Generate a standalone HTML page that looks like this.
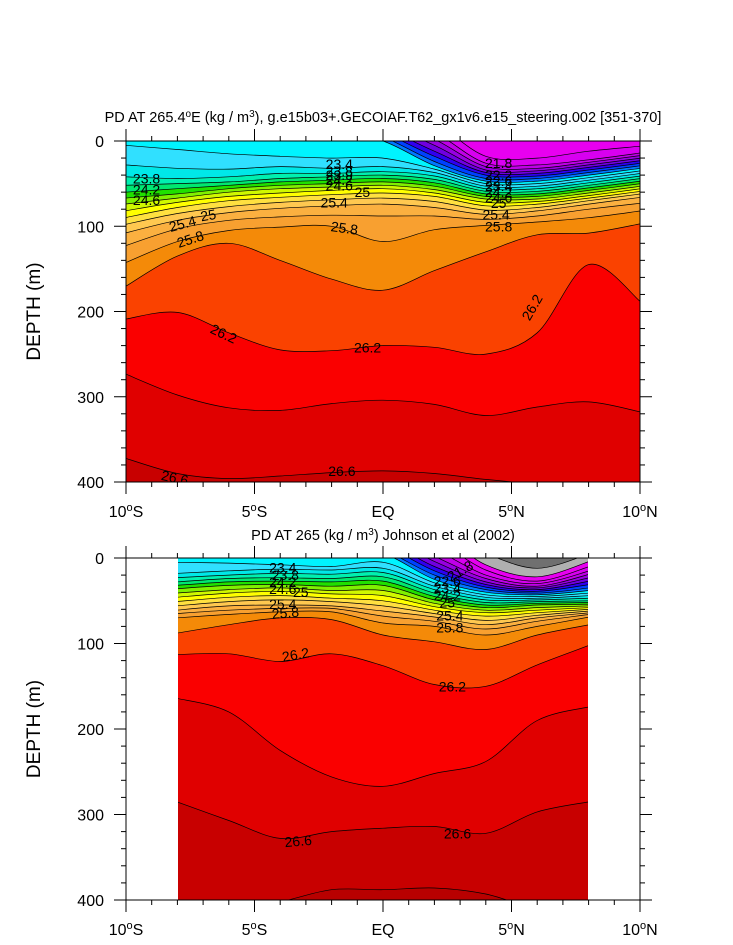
<!DOCTYPE html>
<html><head><meta charset="utf-8"><style>
html,body{margin:0;padding:0;background:#fff;}
svg{display:block;font-family:"Liberation Sans",sans-serif;}
</style></head><body>
<svg id="chart" width="733" height="945" viewBox="0 0 733 945" xmlns="http://www.w3.org/2000/svg">
<defs>
<clipPath id="clipTop"><rect x="126" y="141" width="514" height="341"/></clipPath>
<clipPath id="clipBot"><rect x="178" y="558" width="410" height="342"/></clipPath>
</defs>
<text x="383" y="122" text-anchor="middle" font-size="14.5">PD AT 265.4<tspan baseline-shift="super" font-size="10">o</tspan>E (kg / m<tspan baseline-shift="super" font-size="10">3</tspan>), g.e15b03+.GECOIAF.T62_gx1v6.e15_steering.002 [351-370]</text>
<text x="383" y="540" text-anchor="middle" font-size="14.5">PD AT 265 (kg / m<tspan baseline-shift="super" font-size="10">3</tspan>) Johnson et al (2002)</text>
<g id="topPanel"></g>
<g id="botPanel"></g>
</svg>
<script>
const levels = [21.4,21.6,21.8,22.0,22.2,22.4,22.6,22.8,23.0,23.2,23.4,23.6,23.8,24.0,24.2,24.4,24.6,24.8,25.0,25.2,25.4,25.6,25.8,26.0,26.2,26.4,26.6,26.8];
const bandColors = ['#b0b0b0','#e800f0','#d800f0','#c000e8','#9800e0','#7000e0','#3000f0','#0040ff','#0078ff','#00f4ff','#30e0ff','#00e8e8','#00f0b0','#00e870','#20e000','#80f000','#d0f800','#ffff00','#ffe040','#ffc850','#fbb040','#f8a030','#f48a08','#fa4200','#fa0000','#e00000','#c80000','#b80000'];
const topColor = '#707070';

const topLats = [-10,-8,-6,-4,-2,0,2,4,6,8,10];
const topDepth = [
 [-30,-30,-30,-30,-30,-30,-30,-30,-30,-30,-30],
 [-30,-30,-30,-30,-30,-30,-30,-30,-30,-30,-30],
 [-30,-30,-30,-30,-30,-30,-20,18,20,12,6],
 [-30,-30,-30,-30,-30,-30,-10,26,28,22,14],
 [-30,-30,-30,-30,-30,-25,-2,30,32,25,17],
 [-30,-30,-30,-30,-30,-20,5,34,35,28,20],
 [-30,-30,-30,-30,-30,-15,12,37,38,31,23],
 [-30,-30,-30,-30,-30,-10,18,40,41,34,26],
 [-30,-30,-30,-30,-25,-5,24,44,44,37,29],
 [-30,-30,-30,-20,-12,0,29,47,47,40,32],
 [5,10,15,18,20,20,33,50,50,43,35],
 [28,32,33,30,32,30,37,53,53,46,38],
 [42,44,42,38,38,36,41,56,56,49,41],
 [52,50,48,44,42,40,45,59,59,52,44],
 [60,56,52,48,46,44,49,62,62,55,47],
 [67,62,56,52,50,48,53,65,65,58,50],
 [74,67,60,56,54,52,57,68,68,61,53],
 [82,72,65,61,58,56,61,72,71,64,56],
 [90,78,70,66,63,61,65,76,74,67,59],
 [98,85,77,72,69,67,71,81,78,70,62],
 [108,93,84,79,76,74,78,86,82,74,66],
 [123,103,93,89,87,88,88,92,88,80,73],
 [143,118,105,101,100,118,104,99,95,90,82],
 [171,135,120,140,162,175,152,130,110,108,97],
 [209,201,225,245,246,240,242,250,225,145,189],
 [273,298,313,316,308,304,309,322,312,306,318],
 [372,390,396,393,389,387,390,397,402,405,408],
 [450,450,450,450,450,450,450,450,450,450,450]
];

const botLats = [-8,-6,-4,-2,0,2,4,6,8];
const botDepth = [
 [-30,-30,-30,-30,-30,-30,-5,12,-5],
 [-30,-30,-30,-30,-30,-30,8,22,4],
 [-30,-30,-30,-30,-30,-20,14,27,10],
 [-30,-30,-30,-30,-30,-10,20,30,15],
 [-30,-30,-30,-30,-30,-2,24,33,19],
 [-30,-30,-30,-30,-25,4,28,35,23],
 [-30,-30,-30,-30,-20,10,31,37,27],
 [-30,-30,-30,-30,-15,15,34,39,31],
 [-30,-30,-30,-30,-10,20,37,41,35],
 [-30,-30,-20,-10,-5,25,40,43,38],
 [5,6,8,10,5,29,43,45,41],
 [18,15,13,14,12,33,46,47,44],
 [23,20,18,19,17,37,49,49,47],
 [28,24,23,24,22,41,52,51,50],
 [32,28,27,28,27,45,55,53,52],
 [36,32,31,33,32,49,58,55,54],
 [41,37,35,38,38,53,61,58,56],
 [46,41,39,42,44,57,64,61,58],
 [51,46,44,47,50,61,68,64,60],
 [56,51,49,51,56,65,73,67,62],
 [61,56,55,56,62,69,78,70,64],
 [65,61,59,59,68,74,83,74,66],
 [70,66,63,63,76,80,90,80,69],
 [88,78,70,72,90,98,107,90,78],
 [113,112,121,112,126,148,150,125,102],
 [164,180,225,256,267,252,238,190,174],
 [285,307,328,320,316,314,322,297,285],
 [410,410,402,388,388,386,393,410,410]
];

const xTickLats = [-10,-5,0,5,10];
const xTickLabels = ['10°S','5°S','EQ','5°N','10°N'];
const yTickDepths = [0,100,200,300,400];

const topLabels = [
 ['23.4',-1.7,27,0],['23.8',-1.7,35,0],['23.9',-1.7,40,0],['24.2',-1.7,46,0],['24.6',-1.7,52,0],['25',-0.8,60,0],['25.4',-1.9,72,0],['25.8',-1.5,102,8],
 ['23.8',-9.2,44,0],['24.2',-9.2,57,0],['24.6',-9.2,69,0],['25',-6.8,87,-10],['25.4',-7.8,97,-15],['25.8',-7.5,115,-18],
 ['21.8',4.5,26,0],['22.2',4.5,40,0],['22.6',4.5,47,0],['23.4',4.5,53,0],['24.2',4.5,60,0],['24.6',4.5,66,0],['25',4.5,73,0],['25.4',4.4,86,0],['25.8',4.5,100,0],
 ['26.2',-6.2,226,25],['26.2',-0.6,242,0],['26.2',5.8,195,-60],['26.6',-8.1,395,12],['26.6',-1.6,387,0]
];
const botLabels = [
 ['23.4',-3.9,11,0],['23.8',-3.8,20,0],['24.2',-3.9,28,0],['24.6',-3.9,36,0],['25',-3.2,40,0],['25.4',-3.9,54,0],['25.8',-3.8,64,-5],
 ['21.8',3.0,15,-30],['22.6',2.5,27,0],['23.4',2.5,35,0],['24.2',2.5,44,0],['25',2.5,52,0],['25.4',2.6,67,0],['25.8',2.6,81,0],
 ['26.2',-3.4,113,-10],['26.2',2.7,150,0],['26.6',-3.3,331,-5],['26.6',2.9,322,0]
];

const NS='http://www.w3.org/2000/svg';
function xOf(lat){ return 126 + (lat+10)*25.7; }
function mk(tag, attrs, parent){ const e=document.createElementNS(NS,tag); for(const k in attrs) e.setAttribute(k,attrs[k]); parent.appendChild(e); return e; }
function smooth(pts){
  let d='M'+pts[0][0].toFixed(1)+','+pts[0][1].toFixed(1);
  for(let i=0;i<pts.length-1;i++){
    const p0=pts[i-1]||pts[i], p1=pts[i], p2=pts[i+1], p3=pts[i+2]||pts[i+1];
    const c1x=p1[0]+(p2[0]-p0[0])/6, c1y=p1[1]+(p2[1]-p0[1])/6;
    const c2x=p2[0]-(p3[0]-p1[0])/6, c2y=p2[1]-(p3[1]-p1[1])/6;
    d+=' C'+c1x.toFixed(1)+','+c1y.toFixed(1)+' '+c2x.toFixed(1)+','+c2y.toFixed(1)+' '+p2[0].toFixed(1)+','+p2[1].toFixed(1);
  }
  return d;
}

function drawPanel(g, lats, depths, yOf, clipId, x0, x1, y0, y1, dataX0, dataX1, labels){
  const data = mk('g',{'clip-path':'url(#'+clipId+')'},g);
  
  
  const bg = mk('rect',{x:dataX0,y:y0,width:dataX1-dataX0,height:y1-y0,fill:topColor},data);
  
  
  const curves = [];
  for(let i=0;i<levels.length;i++){
    const pts = lats.map((la,j)=>[xOf(la), yOf(depths[i][j])]);
    pts[0][0] -= 1; pts[pts.length-1][0] += 1;
    const c = smooth(pts);
    curves.push(c);
    const f = mk('path',{d:c+' L'+(dataX1+2)+','+(y1+20)+' L'+(dataX0-2)+','+(y1+20)+' Z',fill:bandColors[i],stroke:bandColors[i],'stroke-width':0.3},data);
    
    
  }
  for(let i=0;i<levels.length;i++){
    const l = mk('path',{d:curves[i],fill:'none',stroke:'#000','stroke-width':0.7},data);
    
    
  }
  labels.forEach(lb=>{
    const x=xOf(lb[1]), y=yOf(lb[2]);
    const t = mk('text',{x:x,y:y+5,'font-size':14,'text-anchor':'middle',transform:'rotate('+lb[3]+' '+x+' '+y+')'},data);
    t.textContent=lb[0];
    
    
  });
  const fr = mk('rect',{x:x0,y:y0,width:x1-x0,height:y1-y0,fill:'none',stroke:'#000','stroke-width':1},g);
  
  
  for(let la=-10;la<=10;la++){
    const x=xOf(la), L = (la%5===0)?12:5;
    mk('line',{x1:x,y1:y1,x2:x,y2:y1+L,stroke:'#000','stroke-width':1},g);
    mk('line',{x1:x,y1:y0,x2:x,y2:y0-L,stroke:'#000','stroke-width':1},g);
  }
  xTickLats.forEach((la,i)=>{
    const t = mk('text',{x:xOf(la),y:y1+35,'font-size':16,'text-anchor':'middle'},g);
    const lab = xTickLabels[i];
    if(lab.indexOf('°')>=0){
      const parts = lab.split('°');
      t.appendChild(document.createTextNode(parts[0]));
      const s = mk('tspan',{'baseline-shift':'super','font-size':11},t); s.textContent='o';
      const r = mk('tspan',{},t); r.textContent=parts[1];
    } else t.textContent=lab;
    
    
  });
  for(let d=0; d<=400; d+=20){
    const y=yOf(d), L=(d%100===0)?12:5;
    mk('line',{x1:x0,y1:y,x2:x0-L,y2:y,stroke:'#000','stroke-width':1},g);
    mk('line',{x1:x1,y1:y,x2:x1+L,y2:y,stroke:'#000','stroke-width':1},g);
  }
  yTickDepths.forEach(d=>{
    const t = mk('text',{x:x0-22,y:yOf(d)+6,'font-size':16,'text-anchor':'end'},g);
    t.textContent=String(d);
    
    
  });
  const yc=(y0+y1)/2;
  const yt = mk('text',{x:40,y:yc,'font-size':19,'text-anchor':'middle',transform:'rotate(-90 40 '+yc+')'},g);
  yt.textContent='DEPTH (m)';
  
  
}

drawPanel(document.getElementById('topPanel'), topLats, topDepth, d=>141+d*0.8525, 'clipTop', 126,640,141,482, 126,640, topLabels);
drawPanel(document.getElementById('botPanel'), botLats, botDepth, d=>558+d*0.855, 'clipBot', 126,640,558,900, 178,588, botLabels);
</script>
</body></html>
